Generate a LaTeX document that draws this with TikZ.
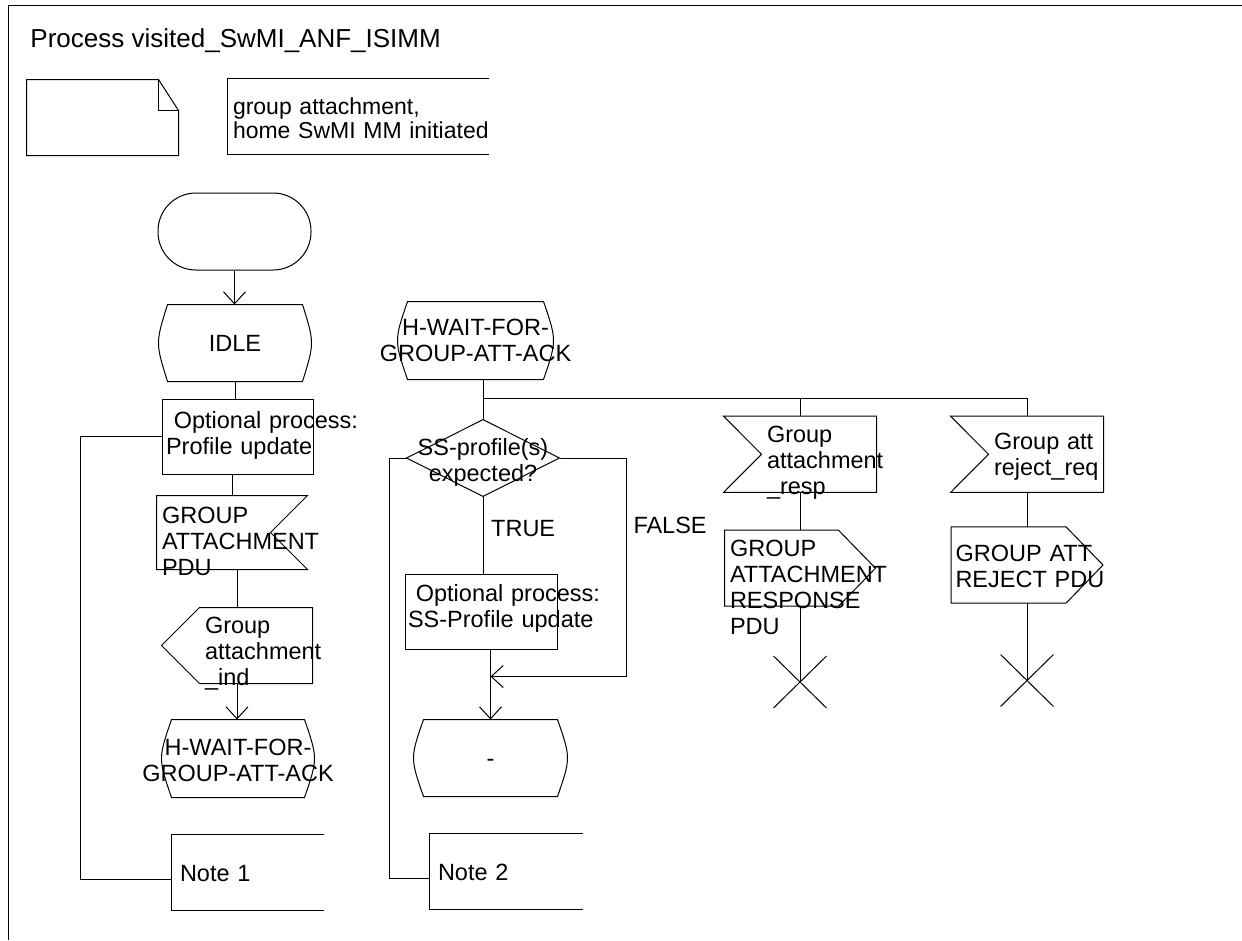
\documentclass[tikz,border=0pt]{standalone}
\usepackage{fontspec}
\setmainfont{Liberation Sans}
\usetikzlibrary{arrows.meta, calc}
\newcommand\sdlfont{\fontsize{23.5pt}{26pt}\selectfont}
\newcommand\titlefont{\fontsize{26pt}{30pt}\selectfont}
\newcommand\cmtfont{\fontsize{23pt}{23.5pt}\selectfont}
\newcommand\spill[1]{\makebox[\linewidth]{#1}}
\hyphenpenalty=10000
\exhyphenpenalty=10000

\begin{document}
\begin{tikzpicture}[x=1pt, y=-1pt, line width=1pt,
      sym/.style={inner xsep=5pt, inner ysep=0pt, align=left, font=\sdlfont},
      arr/.style={-{Straight Barb[length=12pt, width=22pt]}},
      lbl/.style={font=\sdlfont, anchor=base west, inner sep=0pt},
      startbox/.style={draw, rounded corners=38pt, minimum width=153pt, minimum height=77pt, inner sep=0pt},
      taskbox/.style={sym, draw},
      sdlstate/.style={sym, align=center, inner xsep=0pt,
         append after command={\pgfextra{\let\sn\tikzlastnode
            \draw ([xshift=#1]\sn.north west) -- ([xshift=-#1]\sn.north east)
               .. controls ([xshift=#1/3]\sn.east) .. ([xshift=-#1]\sn.south east)
               -- ([xshift=#1]\sn.south west)
               .. controls ([xshift=-#1/3]\sn.west) .. ([xshift=#1]\sn.north west) -- cycle;}}},
      decbox/.style={sym, align=center, inner xsep=0pt,
         append after command={\pgfextra{\let\sn\tikzlastnode
            \draw (\sn.north) -- (\sn.east) -- (\sn.south) -- (\sn.west) -- cycle;}}},
      inR/.style={sym,
         append after command={\pgfextra{\let\sn\tikzlastnode
            \draw (\sn.north west) -- (\sn.north east) -- ([xshift=-#1]\sn.east)
               -- (\sn.south east) -- (\sn.south west) -- cycle;}}},
      inL/.style={sym, execute at begin node={\leftskip=#1},
         append after command={\pgfextra{\let\sn\tikzlastnode
            \draw (\sn.north west) -- (\sn.north east) -- (\sn.south east)
               -- (\sn.south west) -- ([xshift=#1]\sn.west) -- cycle;}}},
      outR/.style={sym,
         append after command={\pgfextra{\let\sn\tikzlastnode
            \draw (\sn.north west) -- ([xshift=-#1]\sn.north east) -- (\sn.east)
               -- ([xshift=-#1]\sn.south east) -- (\sn.south west) -- cycle;}}},
      outL/.style={sym, execute at begin node={\leftskip=#1},
         append after command={\pgfextra{\let\sn\tikzlastnode
            \draw ([xshift=#1]\sn.north west) -- (\sn.north east) -- (\sn.south east)
               -- ([xshift=#1]\sn.south west) -- (\sn.west) -- cycle;}}},
      notebox/.style={sym, inner xsep=8pt,
         append after command={\pgfextra{\let\sn\tikzlastnode
            \draw (\sn.north east) -- (\sn.north west) -- (\sn.south west) -- (\sn.south east);}}},
      docsym/.style={minimum width=151pt, minimum height=75pt, inner sep=0pt,
         append after command={\pgfextra{\let\sn\tikzlastnode
            \draw (\sn.north west) -- ([xshift=-20pt]\sn.north east) -- ([yshift=-31pt]\sn.north east)
               -- (\sn.south east) -- (\sn.south west) -- cycle;
            \draw ([xshift=-20pt]\sn.north east) -- ([xshift=-20pt, yshift=-31pt]\sn.north east)
               -- ([yshift=-31pt]\sn.north east);}}},
      crossbox/.style={minimum width=52pt, minimum height=51pt, inner sep=0pt,
         append after command={\pgfextra{\let\sn\tikzlastnode
            \draw (\sn.north west) -- (\sn.south east) (\sn.north east) -- (\sn.south west);}}}]

      \useasboundingbox (0,0) rectangle (1242,940);

      % Frame and heading
      \draw (8,940) -- (8,5) -- (1242,5);
      \node[font=\titlefont, anchor=base west, inner sep=0pt] (title) at (30,47) {Process visited\_SwMI\_ANF\_ISIMM};
      \node[docsym] (doc) at (102.5,117.5) {};
      \node[notebox, inner xsep=5pt, font=\cmtfont, text width=250pt, text height=35.5pt, text depth=39.5pt] (cmt) at (358,116.5)
         {group attachment,\\home~SwMI~MM~initiated};

      % Left column: start transition
      \node[startbox] (start) at (234.5,231.5) {};
      \node[sdlstate=9pt, text width=152pt, text height=46.5pt, text depth=29.5pt] (idle) at (235,343) {IDLE};
      \node[taskbox, inner xsep=4pt, text width=143pt, text height=29.3pt, text depth=45.7pt] (task1) at (237.5,436.5)
         {~Optional~process:\\Profile~update};
      \node[inR=37pt, text width=140pt, text height=27.3pt, text depth=45.7pt] (in1) at (232,532.5)
         {GROUP\\ATTACHMENT\\PDU};
      \node[outL=38pt, text width=140pt, text height=25pt, text depth=50pt] (out1) at (237,645.5)
         {Group\\attachment\\\_ind};
      \node[sdlstate=10pt, text width=152pt, text height=35pt, text depth=42pt] (wait1) at (238,758.5)
         {\spill{H-WAIT-FOR-}\\\spill{GROUP-ATT-ACK}};
      \node[notebox, text width=135pt, text height=46pt, text depth=29pt] (note1) at (247.5,872.5) {Note~1};

      \draw[arr] (start.south) -- (start.south |- idle.north);
      \draw (idle.south) -- (idle.south |- task1.north);
      \draw (in1.north |- task1.south) -- (in1.north);
      \draw (out1.north |- in1.south) -- (out1.north);
      \draw[arr] (out1.south) -- (out1.south |- wait1.north);
      \draw (task1.west) -- ++(-81.3,0) |- ([yshift=-6.5pt]note1.west);

      % Waiting state and its inputs
      \node[sdlstate=10pt, text width=155pt, text height=33pt, text depth=44pt] (wait2) at (475.5,340.5)
         {\spill{H-WAIT-FOR-}\\\spill{GROUP-ATT-ACK}};
      \node[decbox, text width=152pt, text height=35.7pt, text depth=40pt] (dec) at (483,458)
         {SS-profile(s)\\expected?};
      \node[taskbox, inner xsep=3pt, text width=146pt, text height=27.7pt, text depth=47.3pt] (task2) at (481,611.5)
         {~Optional~process:\\SS-Profile~update};
      \node[sdlstate=10pt, text width=153pt, text height=46.5pt, text depth=29.5pt] (dash) at (490.5,758) {-};
      \node[notebox, text width=136pt, text height=46pt, text depth=29.3pt] (note2) at (506,871.7) {Note~2};
      \node[lbl] (true) at (490.7,536) {TRUE};
      \node[lbl] (false) at (633,533) {FALSE};

      \node[inL=38pt, text width=142pt, text height=26.3pt, text depth=49pt] (in3) at (800,454.3)
         {Group\\attachment\\\_resp};
      \node[outR=37pt, text width=140pt, text height=26pt, text depth=49pt] (out3) at (800,568.2)
         {GROUP\\ATTACHMENT\\RESPONSE\\PDU};
      \node[crossbox] (stop3) at (800,682) {};

      \node[inL=38pt, text width=142pt, text height=33.3pt, text depth=42pt] (in4) at (1027,454.3)
         {Group~att\\reject\_req};
      \node[outR=37pt, inner xsep=4pt, text width=143pt, text height=34.4pt, text depth=41pt] (out4) at (1027,565)
         {GROUP~ATT\\REJECT~PDU};
      \node[crossbox] (stop4) at (1027,680.5) {};

      \coordinate (fork) at (483,398);
      \coordinate (merge) at ([yshift=43pt]dash.north);
      \draw (wait2.south -| dec.north) -- (dec.north);
      \draw (fork) -| (in4.north);
      \draw (fork -| in3.north) -- (in3.north);
      \draw (dec.south) -- (dec.south |- task2.north);
      \draw[arr] (task2.south -| dash.north) -- (dash.north);
      \draw[arr] (dec.east) -- ++(67,0) |- (merge);
      \draw (dec.west) -- ++(-17.4,0) |- ([yshift=-7pt]note2.west);
      \draw (in3.south) -- (out3.north);
      \draw (out3.south) -- (stop3.center);
      \draw (in4.south) -- (out4.north);
      \draw (out4.south) -- (stop4.center);
   \end{tikzpicture}
\end{document}
